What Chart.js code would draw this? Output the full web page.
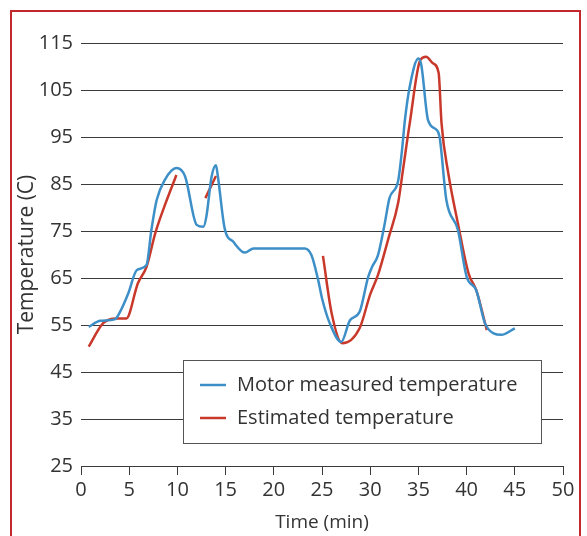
<!DOCTYPE html>
<html>
<head>
<meta charset="utf-8">
<script src="https://cdn.jsdelivr.net/npm/chart.js@4/dist/chart.umd.min.js"></script>
<style>
    html, body { margin: 0; padding: 0; background: #fff; }
    #wrap { position: relative; width: 587px; height: 536px; overflow: hidden; }
    #frame {
        position: absolute; left: 10px; top: 10px; width: 571px; height: 560px;
        border: 2px solid #c1272d; box-sizing: border-box;
    }
    canvas { position: absolute; left: 0; top: 0; }
</style>
</head>
<body>
<div id="wrap">
    <div id="frame"></div>
    <canvas id="chart" width="587" height="536"></canvas>
</div>
<script>
// Motor measured temperature (time in min, temperature in C)
const measuredTime = [0.8, 2, 3.5, 4.05, 4.9, 5.8, 6.8, 7.3, 7.85, 8.7, 9.9, 10.8, 12, 12.7, 13, 13.55, 14, 14.2, 14.9, 15.8, 17, 17.9, 20, 23.2, 23.9, 24.6, 25, 25.8, 27, 27.9, 28.9, 29.8, 30.2, 30.8, 31.5, 32, 32.9, 33.3, 33.6, 34.1, 35, 35.3, 36, 36.9, 37.2, 37.9, 39.1, 40, 41, 41.9, 42.8, 43.6, 45];
const measuredTemp = [54.6, 55.9, 56.2, 57.8, 61.7, 66.7, 67.8, 75.2, 81.6, 85.9, 88.4, 86.6, 76.3, 75.9, 78, 86.6, 89, 86.6, 75.6, 72.7, 70.4, 71.3, 71.3, 71.3, 69.9, 64.6, 60.7, 55.4, 51.4, 56, 57.8, 65.3, 67.4, 69.8, 76.5, 82, 85.7, 92.2, 98.6, 105.7, 111.7, 110.3, 98.6, 96.5, 95, 81.6, 75.2, 65.3, 62.4, 55.4, 53.2, 52.9, 54.3];

// Estimated temperature (null = gap in the line)
const estimatedTime = [0.8, 2.3, 3.7, 4.7, 5.9, 6.8, 7.7, 8.7, 9.9, 11, 12.9, 14, 19, 25.1, 26, 27.1, 28.9, 30, 30.8, 31.9, 32.9, 33.4, 34.1, 35.2, 35.8, 36.5, 37.1, 37.4, 38.1, 39.1, 40.2, 41, 42.1];
const estimatedTemp = [50.4, 55.4, 56.4, 56.4, 63.9, 67.4, 74.5, 80.5, 86.9, null, 82, 86.7, null, 69.7, 57.5, 51.1, 54.3, 61.5, 65.6, 73.5, 81, 88, 97.9, 111.4, 112.1, 110.7, 108.6, 97.9, 87.3, 76.6, 66, 62.4, 53.9];

const seriesLabels = ['Motor measured temperature', 'Estimated temperature'];
const seriesColors = ['#3d8fc8', '#c8392b'];

const textColor = '#333333';
const fontFamily = "'Open Sans', 'Noto Sans', sans-serif";

function toPoints(xs, ys) {
    return xs.map((x, i) => ({ x: x, y: ys[i] }));
}

// legend drawn as a boxed panel inside the plot
const boxLegend = {
    id: 'boxLegend',
    afterDraw(chart) {
        const ctx = chart.ctx;
        const area = chart.chartArea;
        const x0 = area.left + 102;
        const y0 = area.top + 317;
        const w = 358;
        const h = 83;
        ctx.save();
        ctx.fillStyle = '#ffffff';
        ctx.fillRect(x0, y0, w, h);
        ctx.strokeStyle = '#555555';
        ctx.lineWidth = 1;
        ctx.strokeRect(x0 + 0.5, y0 + 0.5, w, h);
        ctx.font = '20px ' + fontFamily;
        ctx.textBaseline = 'middle';
        for (let i = 0; i < seriesLabels.length; i++) {
            const cy = y0 + 25 + i * 33;
            ctx.strokeStyle = seriesColors[i];
            ctx.lineWidth = 2.5;
            ctx.beginPath();
            ctx.moveTo(x0 + 17, cy);
            ctx.lineTo(x0 + 43, cy);
            ctx.stroke();
            ctx.fillStyle = textColor;
            ctx.fillText(seriesLabels[i], x0 + 54, cy);
        }
        ctx.restore();
    },
};

new Chart(document.getElementById('chart'), {
    type: 'line',
    data: {
        datasets: [
            {
                label: seriesLabels[0],
                data: toPoints(measuredTime, measuredTemp),
                borderColor: seriesColors[0],
            },
            {
                label: seriesLabels[1],
                data: toPoints(estimatedTime, estimatedTemp),
                borderColor: seriesColors[1],
            },
        ],
    },
    options: {
        responsive: false,
        animation: false,
        spanGaps: false,
        datasets: {
            line: {
                borderWidth: 2.5,
                pointRadius: 0,
                cubicInterpolationMode: 'monotone',
            },
        },
        layout: {
            padding: { left: 0, top: 43, right: 24, bottom: 0 },
        },
        scales: {
            x: {
                type: 'linear',
                min: 0,
                max: 50,
                border: { display: true, color: '#3a3a3a', width: 1 },
                grid: {
                    drawOnChartArea: false,
                    drawTicks: true,
                    tickLength: 9,
                    color: '#3a3a3a',
                },
                ticks: {
                    stepSize: 5,
                    padding: 3,
                    maxRotation: 0,
                    color: textColor,
                    font: { family: fontFamily, size: 20 },
                },
                title: {
                    display: true,
                    text: 'Time (min)',
                    color: textColor,
                    padding: { top: 0, bottom: 2 },
                    font: { family: fontFamily, size: 19 },
                },
                afterFit: function (scale) {
                    scale.height = 70;
                },
            },
            y: {
                min: 25,
                max: 115,
                border: { display: false },
                grid: {
                    drawTicks: false,
                    color: '#3a3a3a',
                    lineWidth: 1,
                },
                ticks: {
                    stepSize: 10,
                    padding: 8,
                    color: textColor,
                    font: { family: fontFamily, size: 20 },
                },
                title: {
                    display: true,
                    text: 'Temperature (C)',
                    color: textColor,
                    padding: { top: 14, bottom: 0 },
                    font: { family: fontFamily, size: 21 },
                },
                afterFit: function (scale) {
                    scale.width = 81;
                },
            },
        },
        plugins: {
            legend: { display: false },
            tooltip: { enabled: false },
        },
    },
    plugins: [boxLegend],
});
</script>
</body>
</html>
